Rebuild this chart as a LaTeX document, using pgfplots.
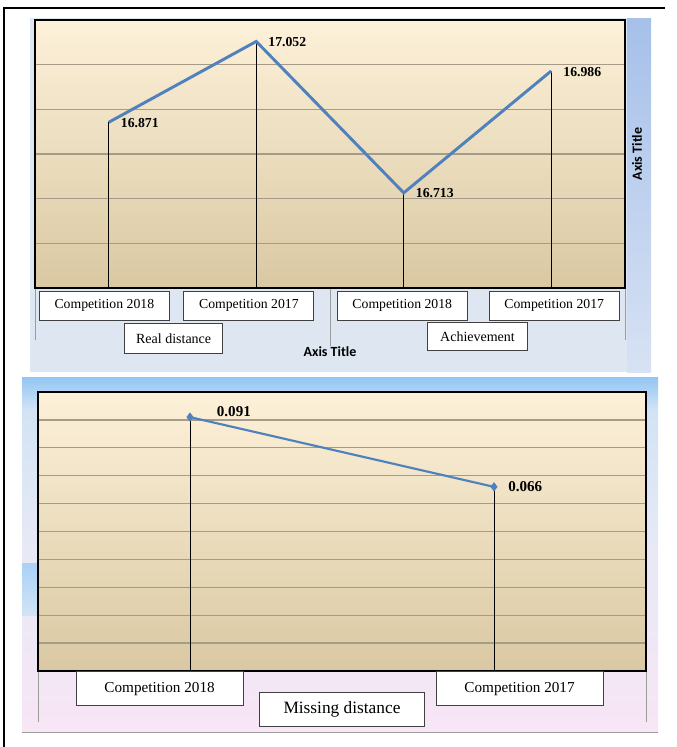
\documentclass[border=0pt]{standalone}
\usepackage{pgfplots}
\usepackage{pgfplotstable}
\pgfplotsset{compat=1.18}
\usepackage{fontspec}
\setmainfont{Liberation Serif}
\newfontfamily\calfont{Carlito}
\definecolor{linecol}{HTML}{4F81BD}
\definecolor{gridcol}{HTML}{A59C88}
\definecolor{bgtop}{HTML}{FDF1D9}
\definecolor{bgmid}{HTML}{F4E8CF}
\definecolor{bgbot}{HTML}{D9C8A2}
\definecolor{ponebg}{HTML}{DDE6F1}
\definecolor{strtop}{HTML}{A6C0EA}
\definecolor{strbot}{HTML}{D7E2F3}
\definecolor{ptwoa}{HTML}{93C6F4}
\definecolor{ptwob}{HTML}{D2E3F5}
\definecolor{ptwoc}{HTML}{E6E9F5}
\definecolor{ptwod}{HTML}{F8E6F5}
\definecolor{sepcol}{HTML}{9C9C9C}
\definecolor{boxcol}{HTML}{404040}

\pgfplotstableread{
x y
0 16.871
1 17.052
2 16.713
3 16.986
}\achdata

\pgfplotstableread{
x y
0 0.091
1 0.066
}\missdata

\tikzset{catbox/.style={draw=boxcol, fill=white, line width=0.6pt, inner sep=0pt}}

\begin{document}
\begin{tikzpicture}
\begin{scope}[x=0.75pt,y=-0.75pt]
\path[use as bounding box, fill=white] (0,0) rectangle (676,747);
% panel 1 background
\fill[ponebg] (30,18) rectangle (651,372);
\shade[top color=strtop, bottom color=strbot] (627,18) rectangle (651,372);
% panel 2 background
\shade[top color=ptwoa, bottom color=ptwob] (22,377) rectangle (658,410);
\shade[top color=ptwob, bottom color=ptwoc] (22,410) rectangle (658,540);
\shade[top color=ptwoc, bottom color=ptwod] (22,540) rectangle (658,732);
\shade[top color=ptwoa!80, bottom color=ptwob] (22,563) rectangle (38,615);
\draw[sepcol, line width=0.75pt] (22,732) -- (658,732);
% frame
\draw[black, line width=1.1pt] (4,747) -- (4,8) -- (665,8);
% category dividers
\draw[sepcol, line width=0.75pt] (35,288) -- (35,340) (330,288) -- (330,346) (625,288) -- (625,340);
\draw[sepcol, line width=0.75pt] (38,672) -- (38,722) (646,672) -- (646,722);
\end{scope}

% ---------- panel 1 ----------
\begin{axis}[
  at={(26.25pt,-15pt)}, anchor=north west,
  scale only axis, width=442.5pt, height=201pt,
  xmin=-0.5, xmax=3.5, ymin=16.5, ymax=17.1,
  clip mode=individual,
  xtick={-0.03,0.95,1.99,3.02},
  xticklabels={Competition 2018,Competition 2017,Competition 2018,Competition 2017},
  ytick={16.6,16.7,16.8,16.9,17.0}, yticklabels={},
  major tick length=0,
  ymajorgrids, grid style={gridcol, line width=1pt},
  axis line style={black, line width=1.5pt},
  axis background/.style={top color=bgtop, middle color=bgmid, bottom color=bgbot},
  xticklabel style={catbox, minimum width=97.5pt, minimum height=21.75pt, yshift=-2pt,
     font=\fontsize{10.3}{12}\selectfont},
  xlabel={Axis Title}, ylabel={Axis Title},
  every axis x label/.style={at={(axis description cs:0.5,0)}, anchor=center, yshift=-48pt,
     font=\calfont\bfseries\fontsize{10.5}{12}\selectfont},
  every axis y label/.style={at={(axis description cs:1.0205,0.5)}, anchor=center, rotate=90,
     font=\calfont\bfseries\fontsize{10.5}{12}\selectfont},
]
\addplot[ycomb, black, line width=0.6pt, mark=none] table[x=x,y=y] {\achdata};
\addplot[linecol, line width=2.2pt, mark=none,
  nodes near coords={\pgfmathprintnumber[fixed,precision=3,zerofill,assume math mode=true]{\pgfplotspointmeta}},
  every node near coord/.append style={black, font=\bfseries\fontsize{10.3}{12}\selectfont, anchor=west, inner sep=0pt, xshift=8pt, yshift=-0.5pt}]
  table[x=x,y=y] {\achdata};
\node[catbox, minimum width=73.5pt, minimum height=22.5pt, anchor=north, yshift=-26.25pt,
  font=\fontsize{10.5}{12}\selectfont] at (axis cs:0.44,16.5) {Real distance};
\node[catbox, minimum width=75pt, minimum height=21pt, anchor=north, yshift=-25.5pt,
  font=\fontsize{10.5}{12}\selectfont] at (axis cs:2.5,16.5) {Achievement};
\end{axis}

% ---------- panel 2 ----------
\begin{axis}[
  at={(28.5pt,-294pt)}, anchor=north west,
  scale only axis, width=456pt, height=209.25pt,
  xmin=-0.5, xmax=1.5, ymin=0, ymax=0.1,
  clip mode=individual,
  xtick={-0.1,1.084},
  xticklabels={Competition 2018,Competition 2017},
  ytick={0.01,0.02,0.03,0.04,0.05,0.06,0.07,0.08,0.09}, yticklabels={},
  major tick length=0,
  ymajorgrids, grid style={gridcol, line width=1pt},
  axis line style={black, line width=1.5pt},
  axis background/.style={top color=bgtop, middle color=bgmid, bottom color=bgbot},
  xticklabel style={catbox, minimum width=125.25pt, minimum height=25.5pt, yshift=-0.3pt,
     font=\fontsize{11.4}{13}\selectfont},
]
\addplot[ycomb, black, line width=0.6pt, mark=none] table[x=x,y=y] {\missdata};
\addplot[linecol, line width=1.6pt, mark=diamond*, mark size=2.2pt, mark options={fill=linecol, draw=linecol}]
  table[x=x,y=y] {\missdata};
\addplot[draw=none, mark=none,
  nodes near coords={\pgfmathprintnumber[fixed,precision=3,zerofill,assume math mode=true]{\pgfplotspointmeta}},
  every node near coord/.append style={black, font=\bfseries\fontsize{11.3}{13}\selectfont, anchor=west, inner sep=0pt, xshift=20pt, yshift=4pt}]
  coordinates {(0,0.091)};
\addplot[draw=none, mark=none,
  nodes near coords={\pgfmathprintnumber[fixed,precision=3,zerofill,assume math mode=true]{\pgfplotspointmeta}},
  every node near coord/.append style={black, font=\bfseries\fontsize{11.3}{13}\selectfont, anchor=west, inner sep=0pt, xshift=10.5pt, yshift=0pt}]
  coordinates {(1,0.066)};
\node[catbox, minimum width=123.75pt, minimum height=25.5pt, anchor=north, yshift=-15.75pt,
  font=\fontsize{13}{15}\selectfont] at (axis cs:0.5,0) {Missing distance};
\end{axis}
\end{tikzpicture}
\end{document}
